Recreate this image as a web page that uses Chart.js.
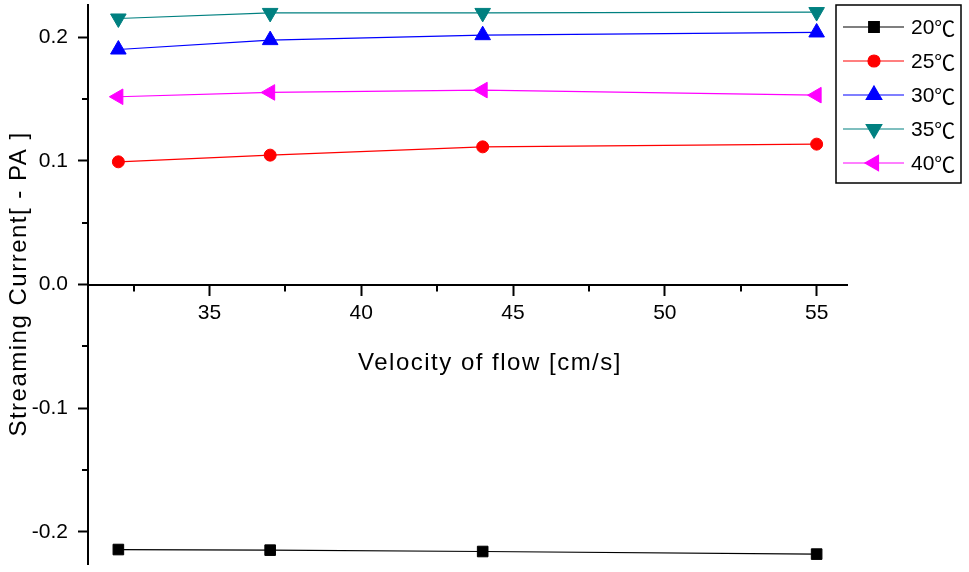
<!DOCTYPE html>
<html>
<head>
<meta charset="utf-8">
<script src="https://cdn.jsdelivr.net/npm/chart.js@4.4.0/dist/chart.umd.min.js"></script>
<style>
  html, body { margin: 0; padding: 0; background: #fff; }
  canvas { display: block; }
</style>
</head>
<body>
<canvas id="flowChart" width="969" height="572"></canvas>
<script>
// values
const velocity = [32, 37, 44, 55];
const current20 = [-0.2143, -0.2148, -0.2159, -0.2180];
const current25 = [0.0992, 0.1046, 0.1113, 0.1135];
const current30 = [0.1900, 0.1976, 0.2016, 0.2038];
const current35 = [0.2151, 0.2196, 0.2196, 0.2203];
const current40 = [0.1518, 0.1553, 0.1572, 0.1531];
const seriesNames = ['20℃', '25℃', '30℃', '35℃', '40℃'];

const xMajorTicks = [35, 40, 45, 50, 55];
const xMinorTicks = [32.5, 37.5, 42.5, 47.5, 52.5];
const yMajorTicks = [-0.2, -0.1, 0.0, 0.1, 0.2];
const yMinorTicks = [-0.15, -0.05, 0.05, 0.15];

const xTitle = 'Velocity of flow [cm/s]';
const yTitle = 'Streaming Current[ - PA ]';

const FONT = "'Liberation Sans', Arial, sans-serif";
const CJK_FONT = "'Noto Sans CJK SC', sans-serif";

const toPoints = vals => velocity.map((v, i) => ({ x: v, y: vals[i] }));

// Origin-like symbol styles
const styles = [
  { color: '#000000', pointStyle: 'rect', rotation: 0, radius: 7.5 },
  { color: '#ff0000', pointStyle: 'circle', rotation: 0, radius: 6 },
  { color: '#0000ff', pointStyle: 'triangle', rotation: 0, radius: 9 },
  { color: '#008080', pointStyle: 'triangle', rotation: 180, radius: 9 },
  { color: '#ff00ff', pointStyle: 'triangle', rotation: 270, radius: 9 }
];
const allSeries = [current20, current25, current30, current35, current40];

const datasets = allSeries.map((vals, i) => ({
  label: seriesNames[i],
  data: toPoints(vals),
  showLine: true,
  borderColor: styles[i].color,
  backgroundColor: styles[i].color,
  borderWidth: 1.2,
  pointStyle: styles[i].pointStyle,
  pointRotation: styles[i].rotation,
  pointRadius: styles[i].radius,
  pointBorderWidth: 1,
  pointBackgroundColor: styles[i].color,
  pointBorderColor: styles[i].color,
  clip: false
}));

// minor ticks, axis titles and the boxed legend
const originFrame = {
  id: 'originFrame',
  afterDraw(chart) {
    const ctx = chart.ctx;
    const xs = chart.scales.x;
    const ys = chart.scales.y;
    const left = chart.chartArea.left;
    const zeroY = ys.getPixelForValue(0);

    ctx.save();
    ctx.strokeStyle = '#000';
    ctx.lineWidth = 2;
    yMinorTicks.forEach(v => {
      const py = Math.round(ys.getPixelForValue(v));
      ctx.beginPath();
      ctx.moveTo(left - 1, py);
      ctx.lineTo(left - 6, py);
      ctx.stroke();
    });
    xMinorTicks.forEach(v => {
      const px = Math.round(xs.getPixelForValue(v));
      ctx.beginPath();
      ctx.moveTo(px, zeroY + 1);
      ctx.lineTo(px, zeroY + 7);
      ctx.stroke();
    });

    // axis titles
    ctx.fillStyle = '#000';
    ctx.font = '24px ' + FONT;
    ctx.letterSpacing = '1.5px';
    ctx.textAlign = 'center';
    ctx.textBaseline = 'alphabetic';
    ctx.fillText(xTitle, 490, 370);
    ctx.save();
    ctx.translate(26, 284);
    ctx.rotate(-Math.PI / 2);
    ctx.fillText(yTitle, 0, 0);
    ctx.restore();
    ctx.letterSpacing = '0px';

    // legend box
    const bx = 836, by = 5, bw = 125, bh = 178;
    ctx.fillStyle = '#fff';
    ctx.fillRect(bx, by, bw, bh);
    ctx.strokeStyle = '#000';
    ctx.lineWidth = 1.5;
    ctx.strokeRect(bx, by, bw, bh);

    ctx.textAlign = 'left';
    ctx.textBaseline = 'middle';
    chart.data.datasets.forEach((ds, i) => {
      const ry = 27 + i * 34;
      ctx.strokeStyle = ds.borderColor;
      ctx.lineWidth = 1.2;
      ctx.beginPath();
      ctx.moveTo(843, ry);
      ctx.lineTo(904, ry);
      ctx.stroke();
      ctx.fillStyle = ds.pointBackgroundColor;
      ctx.strokeStyle = ds.pointBorderColor;
      Chart.helpers.drawPoint(ctx, {
        pointStyle: ds.pointStyle,
        rotation: ds.pointRotation,
        radius: ds.pointRadius,
        borderWidth: 1
      }, 874, ry);
      // number in Arial-like face, degree sign in a full-width CJK face
      const num = ds.label.slice(0, -1);
      const unit = ds.label.slice(-1);
      ctx.fillStyle = '#000';
      ctx.font = '21px ' + FONT;
      ctx.fillText(num, 911, ry + 1);
      const w = ctx.measureText(num).width;
      ctx.font = '21px ' + CJK_FONT;
      ctx.fillText(unit, 911 + w, ry + 1);
    });
    ctx.restore();
  }
};

new Chart(document.getElementById('flowChart'), {
  type: 'scatter',
  data: { datasets: datasets },
  options: {
    responsive: false,
    animation: false,
    devicePixelRatio: 1,
    layout: { autoPadding: false, padding: { left: 0, top: 5, right: 122, bottom: 8 } },
    plugins: {
      legend: { display: false },
      tooltip: { enabled: false }
    },
    scales: {
      x: {
        type: 'linear',
        min: 31,
        max: 56,
        position: { y: 0 },
        afterBuildTicks: s => { s.ticks = xMajorTicks.map(v => ({ value: v })); },
        afterFit: s => { s.paddingLeft = 0; s.paddingRight = 0; },
        ticks: {
          color: '#000',
          font: { family: FONT, size: 21 },
          padding: 6,
          maxRotation: 0,
          autoSkip: false,
          callback: v => String(v)
        },
        grid: { drawOnChartArea: false, drawTicks: true, tickLength: 10, tickWidth: 2, tickColor: '#000' },
        border: { display: true, color: '#000', width: 2 }
      },
      y: {
        type: 'linear',
        min: -0.226,
        max: 0.226,
        position: 'left',
        afterBuildTicks: s => { s.ticks = yMajorTicks.map(v => ({ value: v })); },
        afterFit: s => { s.width = 88; s.paddingTop = 0; s.paddingBottom = 0; },
        ticks: {
          color: '#000',
          font: { family: FONT, size: 21 },
          padding: 10,
          autoSkip: false,
          callback: v => v.toFixed(1)
        },
        grid: { drawOnChartArea: false, drawTicks: true, tickLength: 10, tickWidth: 2, tickColor: '#000' },
        border: { display: true, color: '#000', width: 2 }
      }
    }
  },
  plugins: [originFrame]
});
</script>
</body>
</html>
